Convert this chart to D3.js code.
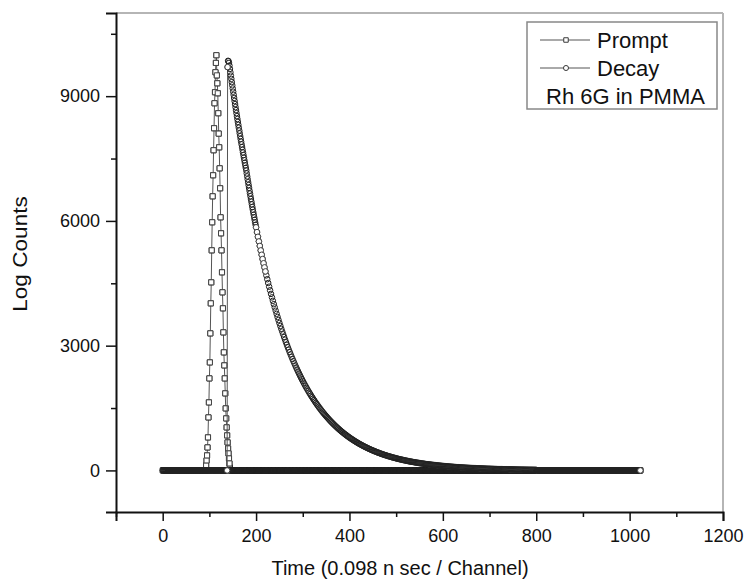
<!DOCTYPE html>
<html>
<head>
<meta charset="utf-8">
<script src="https://cdn.jsdelivr.net/npm/d3@7"></script>
<style>
body { margin: 0; background: #fff; }
text { font-family: Arial, "Liberation Sans", sans-serif; fill: #111; }
</style>
</head>
<body>
<svg id="chart" width="747" height="582"></svg>
<script>

// channels where the counts sit on the baseline (read as 0)
var promptZeroRuns = [[0, 92], [145, 1023]];
var decayZeroRuns = [[0, 138], [801, 1023]];

// prompt peak, one value per channel from channel 93
var promptPeakStart = 93;
var promptPeakCounts = [120, 241, 361, 553, 794, 1275, 1636, 2213, 2598, 3296, 4018, 4523,
	5293, 5967, 6592, 7098, 7700, 8229, 8830, 9095, 9576, 9800, 9985,
	9500, 9310, 9070, 8590, 8100, 7770, 7265, 6785, 6087, 5702, 5293, 4764, 4283, 3898,
	3320, 2839, 2526, 2213, 1853, 1492, 1251, 1035, 842, 674, 529, 409, 289, 168, 72];

// decay, channel 139..200 (every channel)
var decayHeadStart = 139;
var decayHeadCounts = [9700, 9850, 9840, 9800, 9735, 9655, 9575, 9495, 9416, 9338, 9261, 9184,
	9108, 9032, 8957, 8883, 8809, 8736, 8664, 8592, 8520, 8450, 8380, 8310, 8241, 8173,
	8105, 8038, 7971, 7905, 7840, 7775, 7710, 7646, 7583, 7520, 7458, 7396, 7335, 7274,
	7214, 7142, 7071, 7001, 6931, 6862, 6794, 6726, 6659, 6593, 6527, 6462, 6398, 6334,
	6271, 6209, 6147, 6086, 6025, 5965, 5906, 5847];

// decay, channel 202..400 (every 2nd channel)
var decayMidStart = 202;
var decayMidCounts = [5731, 5618, 5507, 5398, 5291, 5186, 5083, 4982, 4883, 4786, 4691, 4598,
	4507, 4418, 4331, 4245, 4161, 4079, 3998, 3919, 3841, 3765, 3690, 3617, 3545, 3475,
	3406, 3339, 3273, 3208, 3145, 3082, 3021, 2961, 2903, 2845, 2789, 2734, 2680, 2627,
	2575, 2524, 2474, 2425, 2377, 2330, 2284, 2238, 2194, 2151, 2108, 2066, 2025, 1985,
	1946, 1907, 1870, 1833, 1796, 1761, 1726, 1692, 1658, 1625, 1593, 1562, 1531, 1500,
	1471, 1441, 1413, 1385, 1358, 1331, 1305, 1279, 1253, 1229, 1204, 1180, 1157, 1134,
	1112, 1090, 1068, 1047, 1026, 1006, 986, 966, 947, 928, 910, 892, 874, 857, 840, 823,
	807, 791];

// decay, channel 402..800 (every 2nd channel)
var decayTailStart = 402;
var decayTailCounts = [775, 760, 745, 730, 716, 701, 687, 674, 660, 647, 635, 622, 610, 598,
	586, 574, 563, 552, 541, 530, 520, 509, 499, 489, 480, 470, 461, 452, 443, 434, 425,
	417, 409, 400, 392, 385, 377, 370, 362, 355, 348, 341, 335, 328, 321, 315, 309, 303,
	297, 291, 285, 279, 274, 268, 263, 258, 253, 248, 243, 238, 233, 229, 224, 220, 215,
	211, 207, 203, 199, 195, 191, 187, 184, 180, 176, 173, 169, 166, 163, 160, 156, 153,
	150, 147, 144, 142, 139, 136, 133, 131, 128, 126, 123, 121, 118, 116, 114, 111, 109,
	107, 105, 103, 101, 99, 97, 95, 93, 91, 89, 87, 86, 84, 82, 81, 79, 77, 76, 74, 73,
	71, 70, 69, 67, 66, 64, 63, 62, 61, 59, 58, 57, 56, 55, 54, 53, 52, 51, 50, 49, 48,
	47, 46, 45, 44, 43, 42, 41, 40, 40, 39,
	38, 37, 37, 36, 35, 34, 34, 33, 32, 32, 31, 30, 30, 29, 28, 28, 27, 27, 26, 26, 25,
	25, 24, 24, 23, 23, 22, 22, 21, 21, 20, 20, 19, 19, 19, 18, 18, 17, 17, 17, 16, 16,
	16, 15, 15, 15, 14, 14, 14, 13];

var xTickLabels = [0, 200, 400, 600, 800, 1000, 1200];
var yTickLabels = [0, 3000, 6000, 9000];
var legendNames = ["Prompt", "Decay"];
var legendNote = "Rh 6G in PMMA";

function zeroRun(run) {
	return d3.range(run[0], run[1] + 1).map(c => [c, 0]);
}

function segment(start, step, counts) {
	return counts.map((v, i) => [start + i * step, v]);
}

var promptData = [].concat(
	zeroRun(promptZeroRuns[0]),
	segment(promptPeakStart, 1, promptPeakCounts),
	zeroRun(promptZeroRuns[1])
);

var decayData = [].concat(
	zeroRun(decayZeroRuns[0]),
	segment(decayHeadStart, 1, decayHeadCounts),
	segment(decayMidStart, 2, decayMidCounts),
	segment(decayTailStart, 2, decayTailCounts),
	zeroRun(decayZeroRuns[1])
);

var svg = d3.select("#chart");

var plotLeft = 116, plotRight = 723, plotTop = 13, plotBottom = 512;

var x = d3.scaleLinear().domain([-100, 1200]).range([plotLeft, plotRight]);
var y = d3.scaleLinear().domain([-1000, 11000]).range([plotBottom, plotTop]);

// frame (top and right are light)
svg.append("line")
	.attr("x1", plotLeft).attr("x2", plotRight).attr("y1", plotTop).attr("y2", plotTop)
	.attr("stroke", "#b5b5b5").attr("stroke-width", 2);
svg.append("line")
	.attr("x1", plotRight).attr("x2", plotRight).attr("y1", plotTop).attr("y2", plotBottom)
	.attr("stroke", "#b5b5b5").attr("stroke-width", 2);

// axes
var xAxis = d3.axisBottom(x)
	.tickValues(d3.range(-100, 1201, 100))
	.tickSizeOuter(0)
	.tickSize(9)
	.tickPadding(8)
	.tickFormat(d => xTickLabels.indexOf(d) >= 0 ? d : "");

var gx = svg.append("g")
	.attr("transform", "translate(0," + plotBottom + ")")
	.call(xAxis);

gx.selectAll(".tick line")
	.attr("y2", d => xTickLabels.indexOf(d) >= 0 ? 9 : 5);

var yAxis = d3.axisLeft(y)
	.tickValues(d3.range(0, 11000, 1500))
	.tickSizeOuter(0)
	.tickSize(10)
	.tickPadding(6)
	.tickFormat(d => yTickLabels.indexOf(d) >= 0 ? d : "");

var gy = svg.append("g")
	.attr("transform", "translate(" + plotLeft + ",0)")
	.call(yAxis);

gy.selectAll(".tick line")
	.attr("x2", d => yTickLabels.indexOf(d) >= 0 ? -10 : -5);

[gx, gy].forEach(function(g) {
	g.select(".domain").attr("stroke", "#111").attr("stroke-width", 2);
	g.selectAll(".tick line").attr("stroke", "#111").attr("stroke-width", 1.5);
	g.selectAll(".tick text")
		.attr("font-family", "Arial, 'Liberation Sans', sans-serif")
		.attr("font-size", 18)
		.attr("fill", "#111");
});

// axis titles
svg.append("text")
	.attr("x", 400).attr("y", 575)
	.attr("text-anchor", "middle")
	.attr("font-size", 20)
	.text("Time (0.098 n sec / Channel)");

svg.append("text")
	.attr("transform", "translate(27,254) rotate(-90) scale(1.13,1)")
	.attr("text-anchor", "middle")
	.attr("font-size", 20)
	.text("Log Counts");

// series
var line = d3.line()
	.x(d => x(d[0]))
	.y(d => y(d[1]));

var plot = svg.append("g");

function drawSeries(data, shape) {

	plot.append("path")
		.datum(data)
		.attr("d", line)
		.attr("fill", "none")
		.attr("stroke", "#555")
		.attr("stroke-width", 1);

	var sym = d3.symbol().type(shape).size(shape == d3.symbolSquare ? 26 : 24);
	var pos = d => "translate(" + x(d[0]) + "," + y(d[1]) + ")";

	//white bodies first, then every outline on top so dense runs turn dark
	plot.append("g")
		.selectAll("path")
		.data(data)
		.enter()
		.append("path")
		.attr("d", sym)
		.attr("transform", pos)
		.attr("fill", "#fff");

	plot.append("g")
		.selectAll("path")
		.data(data)
		.enter()
		.append("path")
		.attr("d", sym)
		.attr("transform", pos)
		.attr("fill", "none")
		.attr("stroke", "#222")
		.attr("stroke-width", 1);

	//markers with no close neighbour after them stay open (white) on top
	var exposed = data.filter(function(d, i) {
		var n = data[i + 1];
		if (!n) return true;
		var dx = x(n[0]) - x(d[0]), dy = y(n[1]) - y(d[1]);
		return Math.sqrt(dx * dx + dy * dy) > 4;
	});

	plot.append("g")
		.selectAll("path")
		.data(exposed)
		.enter()
		.append("path")
		.attr("d", sym)
		.attr("transform", pos)
		.attr("fill", "#fff")
		.attr("stroke", "#444")
		.attr("stroke-width", 1);
}

drawSeries(promptData, d3.symbolSquare);
drawSeries(decayData, d3.symbolCircle);

// legend
var legend = svg.append("g");

legend.append("rect")
	.attr("x", 527).attr("y", 22)
	.attr("width", 190).attr("height", 87)
	.attr("fill", "#fff")
	.attr("stroke", "#888")
	.attr("stroke-width", 1.5);

var shapes = [d3.symbolSquare, d3.symbolCircle];

legendNames.forEach(function(name, i) {

	var ly = 40 + i * 28;

	legend.append("line")
		.attr("x1", 540).attr("x2", 590)
		.attr("y1", ly).attr("y2", ly)
		.attr("stroke", "#555").attr("stroke-width", 1);

	legend.append("path")
		.attr("d", d3.symbol().type(shapes[i]).size(20))
		.attr("transform", "translate(566," + ly + ")")
		.attr("fill", "#fff")
		.attr("stroke", "#3a3a3a");

	legend.append("text")
		.attr("x", 597).attr("y", ly)
		.attr("dy", "0.36em")
		.attr("font-size", 22)
		.text(name);
});

legend.append("text")
	.attr("x", 546).attr("y", 96)
	.attr("dy", "0.36em")
	.attr("font-size", 22)
	.text(legendNote);

</script>
</body>
</html>
